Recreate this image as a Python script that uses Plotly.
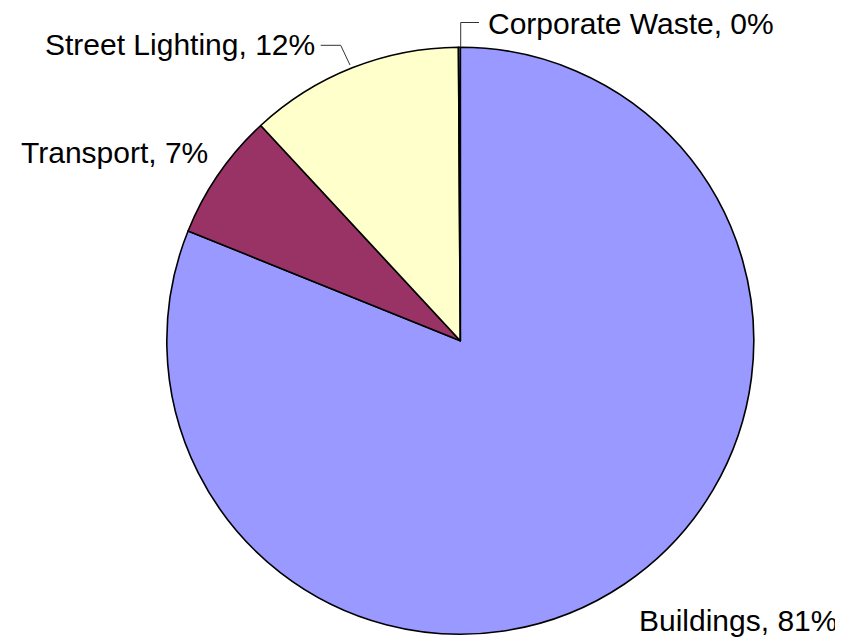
import plotly.graph_objects as go

# Reference canvas size and browser body offset (default 8px body margin)
REF_W, REF_H = 843, 642
OFF = 8
W, H = REF_W - OFF, REF_H - OFF

# Data
categories = ["Buildings", "Transport", "Street Lighting", "Corporate Waste"]
values = [81.1, 7.0, 11.8, 0.1]
colors = ["#9999FF", "#993366", "#FFFFCC", "#CCFFFF"]

total = sum(values)
label_texts = [f"{c}, {round(v / total * 100)}%" for c, v in zip(categories, values)]

# Layout helpers (reference pixel -> paper)
def px(x, y):
    return (x - OFF) / W, 1 - (y - OFF) / H

cx, cy, r = 460.3, 340.7, 293.5
fcx, fcy = cx - OFF, cy - OFF

fig = go.Figure(
    go.Pie(
        labels=categories,
        values=values,
        sort=False,
        direction="clockwise",
        rotation=0,
        marker=dict(colors=colors, line=dict(color="#000000", width=1.6)),
        textinfo="none",
        hoverinfo="label+percent",
        domain=dict(x=[(fcx - r) / W, (fcx + r) / W],
                    y=[(H - fcy - r) / H, (H - fcy + r) / H]),
        showlegend=False,
    )
)

# Label positions (reference pixel, left edge & vertical centre)
label_pos = {
    "Buildings": (637, 620),
    "Transport": (19, 152),
    "Street Lighting": (43, 45),
    "Corporate Waste": (486, 23.5),
}

annotations = []
for c, t in zip(categories, label_texts):
    x, y = px(*label_pos[c])
    annotations.append(dict(
        x=x, y=y, xref="paper", yref="paper", text=t, showarrow=False,
        xanchor="left", yanchor="middle",
        font=dict(family="Liberation Sans, Arial, sans-serif", size=30, color="#000000"),
    ))

def path(points):
    pts = [px(x, y) for x, y in points]
    return "M " + " L ".join(f"{a},{b}" for a, b in pts)

shapes = [
    dict(type="path", xref="paper", yref="paper",
         path=path([(320.7, 45.3), (340.7, 45.3), (350, 65)]),
         line=dict(color="#333333", width=1)),
    dict(type="path", xref="paper", yref="paper",
         path=path([(460.7, 46.7), (460.7, 22.5), (479, 22.5)]),
         line=dict(color="#333333", width=1)),
]

fig.update_layout(
    width=W, height=H,
    margin=dict(l=0, r=0, t=0, b=0),
    paper_bgcolor="#FFFFFF",
    plot_bgcolor="#FFFFFF",
    annotations=annotations,
    shapes=shapes,
)

fig.write_html("out.html")
